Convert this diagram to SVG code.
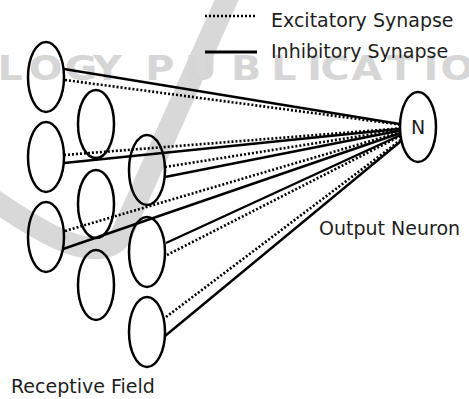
<svg xmlns="http://www.w3.org/2000/svg" width="469" height="399" viewBox="0 0 469 399">
  <style>
    .cell { fill: none; stroke: #000; stroke-width: 2.5; }
    .out { fill: #fff; stroke: #000; stroke-width: 2.5; }
    .inh { stroke: #000; stroke-width: 2.4; fill: none; }
    .exc { stroke: #000; stroke-width: 2.6; fill: none; stroke-dasharray: 2 2; }
    .lbl { font-family: "DejaVu Sans", "Liberation Sans", sans-serif; font-size: 19px; fill: #1e1e1e; }
    .wm { fill: #d6d6d6; font-family: "DejaVu Sans", sans-serif; font-weight: bold; font-size: 33px; }
  </style>

  <!-- background watermark -->
  <g id="watermark">
    <path d="M -12 196 C 40 232, 95 266, 120 238 L 232 -12" fill="none" stroke="#d8d8d8" stroke-width="22" stroke-linejoin="round"/>
    <text class="wm" transform="scale(1.2 1)" x="-2 24 54 77.5 104 121 154 192.5 226 256 267 293 322.5 353 367" y="80">LOGY PUBLICATIO</text>
  </g>

  <!-- synapses: every receptive cell projects to the output neuron -->
  <g id="connectors">
    <line class="inh" x1="64" y1="69" x2="418" y2="127"/>
    <line class="exc" x1="65" y1="80" x2="418" y2="127"/>
    <line class="exc" x1="64" y1="155" x2="418" y2="127"/>
    <line class="inh" x1="64" y1="163" x2="418" y2="127"/>
    <line class="exc" x1="65" y1="231" x2="418" y2="127"/>
    <line class="inh" x1="63" y1="249" x2="418" y2="127"/>
    <line class="exc" x1="165" y1="167" x2="418" y2="127"/>
    <line class="inh" x1="165" y1="177" x2="418" y2="127"/>
    <line class="inh" x1="166" y1="243" x2="418" y2="127"/>
    <line class="exc" x1="167" y1="255" x2="418" y2="127"/>
    <line class="exc" x1="166" y1="317" x2="418" y2="127"/>
    <line class="inh" x1="165" y1="336" x2="418" y2="127"/>
  </g>

  <!-- receptive field cells, three columns -->
  <g id="rf-1-1"><ellipse class="cell" cx="46" cy="77" rx="18" ry="35"/></g>
  <g id="rf-1-2"><ellipse class="cell" cx="46" cy="157" rx="18" ry="35"/></g>
  <g id="rf-1-3"><ellipse class="cell" cx="46" cy="237" rx="18" ry="35"/></g>
  <g id="rf-2-1"><ellipse class="cell" cx="96" cy="124" rx="18" ry="34"/></g>
  <g id="rf-2-2"><ellipse class="cell" cx="96" cy="204" rx="18" ry="34"/></g>
  <g id="rf-2-3"><ellipse class="cell" cx="96" cy="285" rx="18" ry="35"/></g>
  <g id="rf-3-1"><ellipse class="cell" cx="147" cy="170" rx="18" ry="35"/></g>
  <g id="rf-3-2"><ellipse class="cell" cx="147" cy="252" rx="18" ry="35"/></g>
  <g id="rf-3-3"><ellipse class="cell" cx="147" cy="332" rx="18" ry="35"/></g>

  <!-- output neuron -->
  <g id="output-neuron">
    <ellipse class="out" cx="418" cy="127" rx="18" ry="35"/>
    <text class="lbl" x="418" y="134" text-anchor="middle">N</text>
  </g>

  <!-- legend -->
  <g id="legend">
    <line class="exc" x1="205" y1="16" x2="257" y2="16"/>
    <text class="lbl" x="271" y="27">Excitatory Synapse</text>
    <line stroke="#000" stroke-width="3" x1="205" y1="52" x2="257" y2="52"/>
    <text class="lbl" x="271" y="58">Inhibitory Synapse</text>
  </g>

  <text class="lbl" x="319" y="235">Output Neuron</text>
  <text class="lbl" x="11" y="393">Receptive Field</text>
</svg>
